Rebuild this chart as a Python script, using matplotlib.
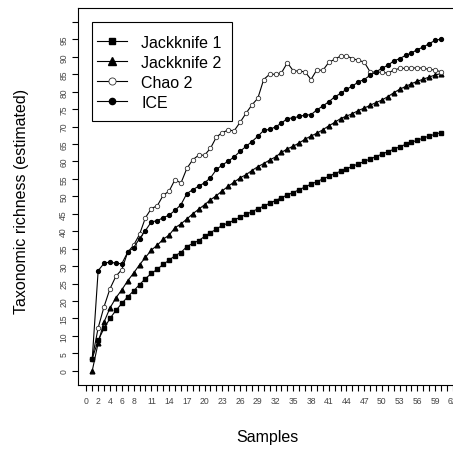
import matplotlib
matplotlib.use("Agg")
import matplotlib.pyplot as plt
from matplotlib.patches import Rectangle

plt.rcParams['font.family'] = ['Liberation Sans', 'DejaVu Sans']

samples = list(range(1, 61))

jackknife1 = [3.5, 8.7, 12.2, 15.0, 17.3, 19.3, 21.2, 22.9, 24.7, 26.4,
              27.9, 29.1, 30.5, 31.7, 33.0, 33.9, 35.6, 36.5, 37.3, 38.5,
              39.6, 40.6, 41.7, 42.3, 43.2, 44.0, 44.8, 45.6, 46.4, 47.2,
              48.0, 48.8, 49.6, 50.4, 51.1, 51.9, 52.7, 53.5, 54.2, 55.0,
              55.7, 56.5, 57.2, 57.9, 58.6, 59.3, 60.0, 60.7, 61.4, 62.1,
              62.8, 63.5, 64.2, 64.9, 65.5, 66.1, 66.7, 67.3, 67.8, 68.3]

jackknife2 = [0.0, 8.0, 14.0, 18.0, 20.9, 23.2, 25.8, 28.0, 30.4, 32.5,
              34.6, 36.0, 37.7, 38.9, 41.0, 42.1, 43.5, 45.0, 46.3, 47.6,
              49.0, 50.2, 51.6, 52.9, 54.1, 55.3, 56.2, 57.4, 58.5, 59.4,
              60.4, 61.3, 62.6, 63.6, 64.4, 65.3, 66.4, 67.3, 68.1, 69.1,
              70.2, 71.2, 72.3, 73.0, 73.7, 74.6, 75.3, 76.1, 76.9, 77.6,
              78.6, 79.7, 80.7, 81.5, 82.3, 83.0, 83.6, 84.2, 84.8, 85.2]

chao2 = [3.5, 12.3, 18.4, 23.5, 27.1, 29.0, 34.0, 36.0, 39.1, 43.9,
         46.5, 47.3, 50.3, 51.5, 54.8, 53.8, 58.0, 60.5, 61.8, 61.8,
         63.8, 67.0, 68.3, 69.0, 68.8, 71.2, 73.8, 76.2, 78.1, 83.5,
         85.0, 85.0, 85.4, 88.3, 86.0, 85.9, 85.7, 83.5, 86.3, 86.1,
         88.4, 89.3, 90.2, 90.3, 89.5, 89.0, 88.5, 85.7, 85.6, 85.6,
         85.3, 86.2, 86.7, 86.7, 86.7, 86.9, 86.7, 86.4, 86.2, 85.7]

ice = [3.5, 28.7, 30.8, 31.2, 30.8, 30.7, 34.0, 35.3, 37.9, 40.2,
       42.7, 43.0, 43.9, 44.6, 46.0, 47.6, 50.8, 51.9, 52.9, 53.9,
       55.3, 57.7, 59.0, 60.1, 61.3, 62.9, 64.3, 65.7, 67.2, 68.9,
       69.2, 69.9, 71.0, 72.3, 72.5, 72.9, 73.3, 73.4, 74.8, 75.9,
       77.1, 78.5, 79.5, 80.7, 81.6, 82.8, 83.5, 84.7, 85.7, 86.7,
       87.6, 88.8, 89.5, 90.4, 91.1, 92.1, 92.8, 93.8, 94.7, 95.1]

series_names = ["Jackknife 1", "Jackknife 2", "Chao 2", "ICE"]

x_ticks = list(range(0, 63))
x_labels_at = [0, 2, 4, 6, 8] + list(range(11, 63, 3))
y_ticks = list(range(0, 101, 5))
y_labels_at = list(range(0, 96, 5))

W, H = 453, 452
fig = plt.figure(figsize=(W / 100, H / 100), dpi=100)
ax = fig.add_axes([78.3 / W, 1 - 385.7 / H, (455 - 78.3) / W, (385.7 - 9) / H])

lw = 0.8
ms = 2.8
ax.plot(samples, jackknife1, color='black', lw=lw, marker='s', ms=ms,
        label=series_names[0])
ax.plot(samples, jackknife2, color='black', lw=lw, marker='^', ms=ms + 0.6,
        label=series_names[1])
ax.plot(samples, chao2, color='black', lw=lw, marker='o', ms=ms + 0.4,
        mfc='white', mec='#333333', mew=0.6, label=series_names[2])
ax.plot(samples, ice, color='black', lw=lw, marker='o', ms=ms,
        label=series_names[3])

ax.set_xlim(-1.36, 62.36)
ax.set_ylim(-4, 104)

ax.set_xticks(x_ticks)
ax.set_xticklabels([str(t) if t in x_labels_at else '' for t in x_ticks])
ax.set_yticks(y_ticks)
ax.set_yticklabels([str(t) if t in y_labels_at else '' for t in y_ticks])

ax.tick_params(axis='both', direction='out', length=4, width=0.8,
               color='black', labelsize=6.2, labelcolor='#444444')
ax.tick_params(axis='x', pad=4.2)
ax.tick_params(axis='y', pad=3.2)
for lbl in ax.get_yticklabels():
    lbl.set_rotation(90)
    lbl.set_va('center')

for side in ['left', 'top', 'bottom', 'right']:
    ax.spines[side].set_linewidth(0.8)
    ax.spines[side].set_color('black')

# legend entries without their own frame; the box is drawn separately
leg = ax.legend(loc='center left', bbox_to_anchor=(96.7 / W, 1 - 73.3 / H),
                bbox_transform=fig.transFigure, fontsize=11.5,
                frameon=False, handlelength=1.9, handletextpad=0.9,
                labelspacing=0.32, borderpad=0, borderaxespad=0,
                markerscale=1.6)
leg.set_zorder(5)
box = Rectangle((92 / W, 1 - 122.3 / H), (231.7 - 92) / W, (122.3 - 22.7) / H,
                transform=fig.transFigure, facecolor='white',
                edgecolor='black', linewidth=0.8, zorder=4)
fig.add_artist(box)
fig.add_artist(leg)

fig.text(267 / W, 1 - 438 / H, 'Samples', ha='center', va='center',
         fontsize=11.5)
fig.text(21.5 / W, 1 - 201.5 / H, 'Taxonomic richness (estimated)',
         ha='center', va='center', rotation=90, fontsize=11.5)

fig.savefig('out.png', dpi=100)
